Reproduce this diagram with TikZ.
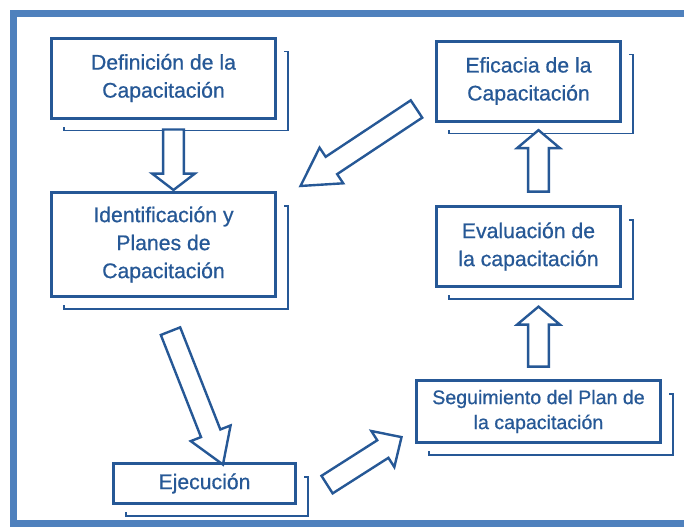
\documentclass[tikz,border=0pt]{standalone}
\usepackage{fontspec}
\setmainfont{Liberation Sans}
\newfontfamily\stagefont[FakeBold=0.7]{Liberation Sans}
\usetikzlibrary{calc,shapes.arrows}

\definecolor{FrameBlue}{RGB}{79,129,189}
\definecolor{BoxBlue}{RGB}{38,88,150}

% hollow block arrow from #2 (tail) to #3 (tip), #1 = tip angle
\newcommand{\fatarrow}[3][100]{%
  \path let \p1=(#2), \p2=(#3), \n1={atan2(\y2-\y1,\x2-\x1)}, \n2={veclen(\x2-\x1,\y2-\y1)} in
    node[blockarrow, single arrow tip angle=#1, minimum height=\n2, rotate=\n1] at ($(\p1)!0.5!(\p2)$) {};%
}

\begin{document}
\begin{tikzpicture}[x=0.5pt, y=-0.5pt,
	stagebox/.style={draw=BoxBlue, line width=1.5pt, fill=white, text=BoxBlue, align=center, inner sep=2pt,
		font=\stagefont\fontsize{10.6}{14}\selectfont},
	shadowline/.style={draw=BoxBlue, line width=0.9pt},
	blockarrow/.style={single arrow, draw=BoxBlue, line width=1.2pt, fill=white, inner xsep=0pt, inner ysep=4.6pt,
		single arrow head extend=5.5pt}]
	\useasboundingbox (0,0) rectangle (684,530);
	\clip (0,0) rectangle (684,530);

	\draw[FrameBlue, line width=3.5pt] (13.5,13.5) rectangle (720,523.5);

	\node[stagebox, minimum width=112pt, minimum height=40pt] (defn) at (163.5,78) {Definición de la\\Capacitación};
	\node[stagebox, minimum width=112pt, minimum height=52pt] (ident) at (163.5,244.5) {Identificación y\\Planes de\\Capacitación};
	\node[stagebox, minimum width=91pt, minimum height=20pt] (ejec) at (204.5,483.5) {Ejecución};
	\node[stagebox, minimum width=122pt, minimum height=31pt, font=\stagefont\fontsize{9.8}{12.5}\selectfont] (segu) at (538.5,411.5) {Seguimiento del Plan de\\la capacitación};
	\node[stagebox, minimum width=92pt, minimum height=40pt] (eval) at (528.5,246.5) {Evaluación de\\la capacitación};
	\node[stagebox, minimum width=92pt, minimum height=40pt] (efic) at (528.5,81) {Eficacia de la\\Capacitación};

	% bracket shadows
	\foreach \n in {defn,ident,ejec,segu,eval,efic}
		\draw[shadowline] ($(\n.north east)+(7,15)$) -- ++(4,0) |- ($(\n.south west)+(14,11)$) -- ++(0,-4);

	% arrows
	\fatarrow[105]{$(defn.south)+(10,6)$}{$(ident.north)+(10,-5)$}
	\fatarrow[65]{$(ident.south)+(4,25.5)$}{$(ejec.north)+(15.5,-5)$}
	\fatarrow[88]{$(ejec.east)+(25.5,4)$}{$(segu.west)+(-18,28.5)$}
	\fatarrow{$(segu.north)+(0,-8)$}{$(eval.south)+(10,23)$}
	\fatarrow{$(eval.north)+(10,-9)$}{$(efic.south)+(10,12)$}
	\fatarrow[60]{$(efic.west)+(-11,23)$}{$(ident.north east)+(31,-10)$}
\end{tikzpicture}
\end{document}
